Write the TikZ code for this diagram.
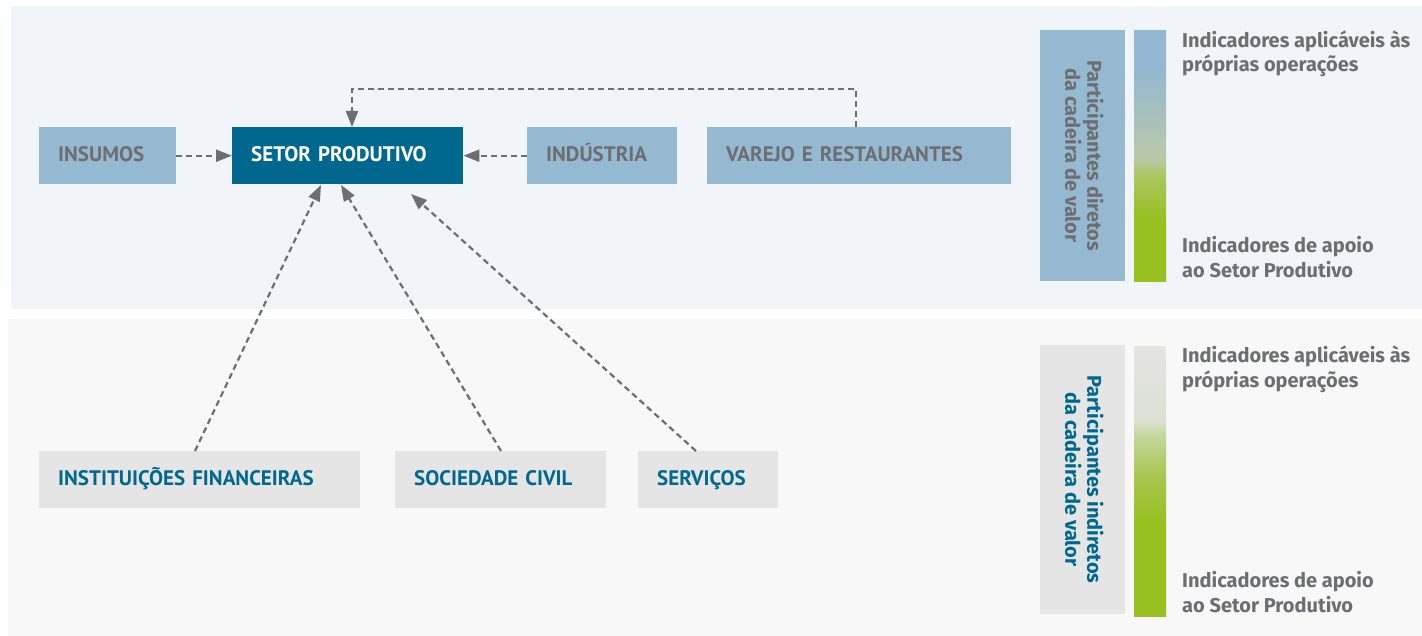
\documentclass[tikz,border=0pt]{standalone}
\usepackage{fontspec}
\setmainfont{PT Sans}
\newfontfamily\legfont{Fira Sans}
\usetikzlibrary{arrows.meta,calc}
\definecolor{toppanel}{HTML}{F1F5FA}
\definecolor{botpanel}{HTML}{F8F8F8}
\definecolor{lblue}{HTML}{96B9D2}
\definecolor{dblue}{HTML}{00688F}
\definecolor{tgray}{HTML}{6D6E71}
\definecolor{lgray}{HTML}{E5E5E5}
\definecolor{agray}{HTML}{6D6E71}
\definecolor{gA}{HTML}{94B8D1}
\definecolor{gB}{HTML}{B9C9A8}
\definecolor{gC}{HTML}{A9C65C}
\definecolor{gD}{HTML}{96C11F}
\definecolor{hA}{HTML}{E4E4E2}
\definecolor{hB}{HTML}{DCE0D3}
\definecolor{hC}{HTML}{C5D89D}
\definecolor{hD}{HTML}{A8C652}
\pgfdeclareverticalshading{topgrad}{100bp}{color(0bp)=(gD); color(25bp)=(gD); color(37.15bp)=(gD); color(45.75bp)=(gC); color(49.5bp)=(gB); color(67bp)=(gA); color(75bp)=(gA); color(100bp)=(gA)}
\pgfdeclareverticalshading{botgrad}{100bp}{color(0bp)=(gD); color(25bp)=(gD); color(42.4bp)=(gD); color(51.1bp)=(hD); color(58.5bp)=(hC); color(61.3bp)=(hB); color(75bp)=(hA); color(100bp)=(hA)}
\tikzset{
  mybox/.style={anchor=north west, minimum height=57pt, inner xsep=19pt, inner ysep=0pt, align=left, text height=16pt, text depth=3.6pt, font=\bfseries\fontsize{21}{24}\selectfont},
  upbox/.style={mybox, fill=lblue, text=tgray},
  mainbox/.style={mybox, fill=dblue, text=white},
  lowbox/.style={mybox, fill=lgray, text=dblue},
  arr/.style={draw=agray, line width=2.2pt, dash pattern=on 6pt off 4pt, -{Triangle[length=16pt,width=12pt]}},
  legtext/.style={anchor=west, align=left, text=tgray, inner sep=0pt, font=\legfont\bfseries\fontsize{20}{24.5}\selectfont},
  vtext/.style={rotate=-90, align=center, inner sep=0pt, font=\legfont\bfseries\fontsize{20}{22}\selectfont},
  bar/.style={anchor=north west, minimum width=32pt, inner sep=0pt, shade},
}
\begin{document}
\begin{tikzpicture}[x=1pt,y=-1pt]
\useasboundingbox (0,0) rectangle (1422,636);
\fill[white] (0,0) rectangle (1422,636);
\fill[toppanel] (11,6) rectangle (1422,309);
\fill[botpanel] (8,319) rectangle (1422,636);

\node[upbox, text width=99pt] (insumos) at (39,127) {INSUMOS};
\node[mainbox, text width=193pt] (setor) at (232,127) {SETOR PRODUTIVO};
\node[upbox, text width=112pt] (industria) at (527,127) {INDÚSTRIA};
\node[upbox, text width=266pt] (varejo) at (707,127) {VAREJO E RESTAURANTES};

\node[lowbox, text width=283pt] (inst) at (39,451) {INSTITUIÇÕES FINANCEIRAS};
\node[lowbox, text width=173pt] (soc) at (395,451) {SOCIEDADE CIVIL};
\node[lowbox, text width=102pt] (serv) at (638,451) {SERVIÇOS};

\draw[arr] (insumos.east) -- (setor.west);
\draw[arr] (industria.west) -- (setor.east);
\coordinate (c1) at (856,89);
\coordinate (c2) at (352,89);
\draw[arr] (c1 |- varejo.north) -- (c1) -- (c2) -- (c2 |- setor.north);
\coordinate (t1) at (321,185);
\coordinate (t2) at (341,185);
\coordinate (t3) at (411,194);
\draw[arr] ($(inst.north west)+(156,0)$) -- (t1);
\draw[arr] ($(soc.north west)+(106,0)$) -- (t2);
\draw[arr] ($(serv.north west)+(58,0)$) -- (t3);

% legend top
\node[anchor=north west, fill=lblue, minimum width=85pt, minimum height=251pt, inner sep=0pt] (lb1) at (1040,30) {};
\node[vtext, text=tgray] (lt1) at ($(lb1.center)+(1.5,0)$) {Participantes diretos\\da cadeira de valor};
\node[bar, shading=topgrad, minimum height=251pt] (g1) at (1134,30) {};
\node[legtext] (l1a) at (1182,54) {Indicadores aplicáveis às\\próprias operações};
\node[legtext] (l1b) at (1182,257) {Indicadores de apoio\\ao Setor Produtivo};

% legend bottom
\node[anchor=north west, fill=lgray, minimum width=85pt, minimum height=269pt, inner sep=0pt] (lb2) at (1040,345) {};
\node[vtext, text=dblue] (lt2) at ($(lb2.center)+(1.5,0)$) {Participantes indiretos\\da cadeira de valor};
\node[bar, shading=botgrad, minimum height=270pt] (g2) at (1134,346) {};
\node[legtext] (l2a) at (1182,369.5) {Indicadores aplicáveis às\\próprias operações};
\node[legtext] (l2b) at (1182,592) {Indicadores de apoio\\ao Setor Produtivo};
\end{tikzpicture}
\end{document}
